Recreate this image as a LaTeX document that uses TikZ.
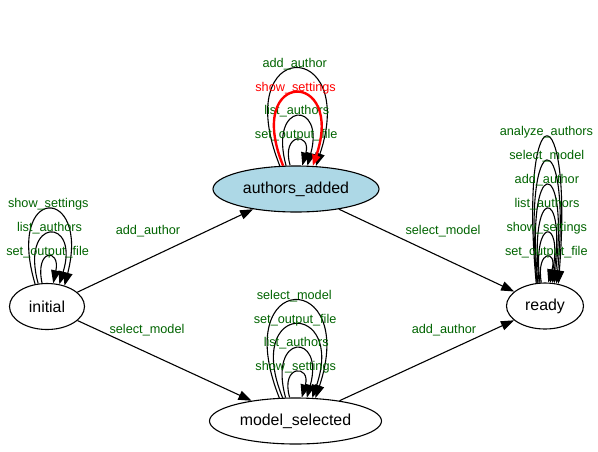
\documentclass[tikz,border=0pt]{standalone}
\usepackage{fontspec}
\setmainfont{Liberation Sans}
\usetikzlibrary{arrows.meta,shapes.geometric}
\definecolor{dgreen}{RGB}{0,100,0}
\definecolor{lblue}{RGB}{173,216,230}
\tikzset{
  state/.style={ellipse, draw=black, line width=1.1pt, inner sep=0pt, minimum height=46pt,
    font=\fontsize{15.9}{19}\selectfont},
  edge/.style={draw=black, line width=1.1pt, -{Triangle[length=13pt,width=9.5pt]}},
  hot/.style={draw=red, fill=none, line width=2.4pt, -{Triangle[length=11pt,width=8pt]}},
  lbl/.style={font=\fontsize{12.7}{15}\selectfont, text=dgreen, inner sep=0pt, anchor=base, yshift=1.8pt},
  elbl/.style={font=\fontsize{12.7}{15}\selectfont, text=dgreen, inner sep=0pt, anchor=base}
}
% #1 node, #2 start angle, #3 end angle, #4 control height, #5 left spread, #6 right spread,
% #7 label, #8 line style, #9 label options
\newcommand\sloop[9]{%
  \draw[#8] (#1.#2) .. controls +(-#5,-#4) and +(#6,-#4) .. (#1.#3)
    node[lbl,pos=0.5,#9] {#7};}
\begin{document}
\begin{tikzpicture}[x=1pt,y=-1pt]
\useasboundingbox (0,0) rectangle (598,451);
\fill[white] (0,0) rectangle (598,451);

\node[state, minimum width=75pt] (initial) at (47,306.5) {initial};
\node[state, minimum width=166pt, fill=lblue] (aa) at (296,189) {authors\_added};
\node[state, minimum width=77pt] (ready) at (545,306) {ready};
\node[state, minimum width=172pt] (ms) at (295.5,421) {model\_selected};

% straight edges
\draw[edge] (initial) -- (aa);
\draw[edge] (initial) -- (ms);
\draw[edge] (aa) -- (ready);
\draw[edge] (ms) -- (ready);
\node[elbl] (lia) at (148,234.5) {add\_author};
\node[elbl] (lim) at (147,333) {select\_model};
\node[elbl] (lar) at (443,234.5) {select\_model};
\node[elbl] (lmr) at (444,333.5) {add\_author};

% loops on initial
\sloop{initial}{118.8}{50.3}{100.5}{29.9}{25.8}{show\_settings}{edge}{name=iA}
\sloop{initial}{111.9}{61.2}{67.3}{18.7}{20.8}{list\_authors}{edge}{name=iB}
\sloop{initial}{102.4}{75.2}{35}{7.4}{7.4}{set\_output\_file}{edge}{name=iC}

% loops on authors_added
\sloop{aa}{125.3}{49.7}{129.3}{51.5}{43.2}{add\_author}{edge}{name=aA}
\sloop{aa}{113.7}{64.2}{65.3}{18.0}{18.0}{list\_authors}{edge}{name=aC}
\sloop{aa}{104.7}{75.3}{33.3}{9.5}{9.5}{set\_output\_file}{edge}{name=aD}
\sloop{aa}{119.8}{54.7}{97.3}{39.6}{33.4}{show\_settings}{hot}{name=aB,text=red}

% loops on model_selected
\sloop{ms}{125.3}{49.7}{129.3}{51.5}{43.2}{select\_model}{edge}{name=mA}
\sloop{ms}{119.8}{54.7}{97.3}{39.6}{33.4}{set\_output\_file}{edge}{name=mB}
\sloop{ms}{113.7}{64.2}{65.3}{18.0}{18.0}{list\_authors}{edge}{name=mC}
\sloop{ms}{104.7}{75.3}{33.3}{9.5}{9.5}{show\_settings}{edge}{name=mD}

% loops on ready
\sloop{ready}{111.9}{59.0}{194.7}{17.7}{15.6}{analyze\_authors}{edge}{name=rA}
\sloop{ready}{109.6}{63.5}{162.3}{15.5}{15.5}{select\_model}{edge}{name=rB}
\sloop{ready}{107.2}{68.1}{130}{13.4}{15.5}{add\_author}{edge}{name=rC}
\sloop{ready}{104.8}{72.8}{97.8}{10.9}{14.1}{list\_authors}{edge}{name=rD}
\sloop{ready}{102.4}{77.6}{65.6}{8.5}{12.6}{show\_settings}{edge}{name=rE}
\sloop{ready}{99.9}{82.5}{33.5}{5.7}{9.8}{set\_output\_file}{edge}{name=rF}
\end{tikzpicture}
\end{document}
